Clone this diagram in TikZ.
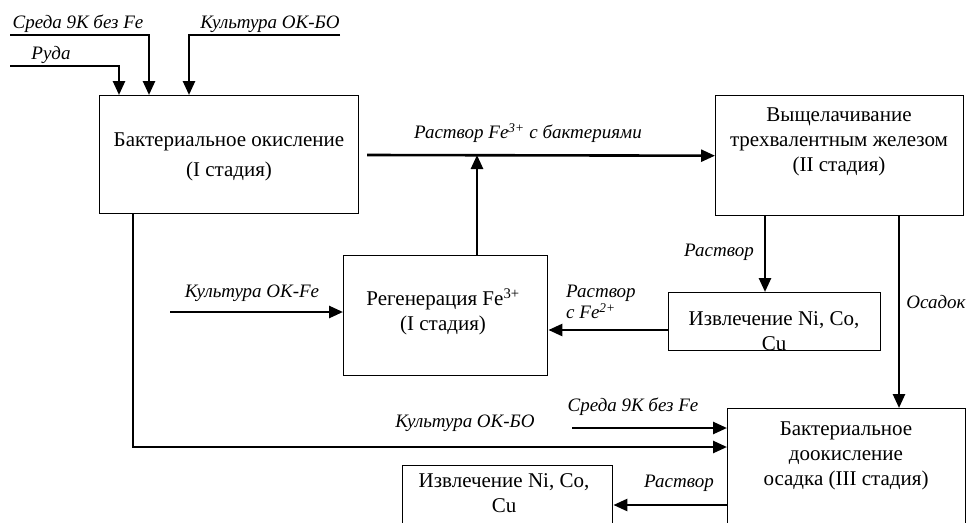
\documentclass[tikz,border=0pt]{standalone}
\usepackage{fontspec}
\setmainfont{Liberation Serif}[ItalicFont={Liberation Serif Italic},BoldFont={Liberation Serif Bold}]
\usetikzlibrary{arrows.meta,calc}
\begin{document}
\begin{tikzpicture}[x=1pt,y=-1pt,
  box/.style={draw, line width=1.4pt, rectangle, inner sep=0pt, anchor=north west},
  boxtext/.style={font=\fontsize{21}{25}\selectfont, align=center, inner sep=0pt},
  lbl/.style={font=\fontsize{19}{21}\selectfont\itshape, inner sep=0pt, align=left},
  arr/.style={line width=2.6pt, -{Triangle[length=14pt,width=12pt]}}]
\clip (0,0) rectangle (968,522);
\fill[white] (0,0) rectangle (968,522);

% boxes
\node[box, minimum width=259pt, minimum height=118pt] (b1) at (99,95) {};
\node[box, minimum width=248pt, minimum height=120pt] (b2) at (715,95) {};
\node[box, minimum width=204pt, minimum height=120pt] (reg) at (343,255) {};
\node[box, minimum width=212pt, minimum height=58pt] (ex1) at (668,292) {};
\node[box, minimum width=238pt, minimum height=140pt] (b3) at (727,408) {};
\node[box, minimum width=210pt, minimum height=80pt] (ex2) at (402,465) {};

% box texts
\node[boxtext] (t1) at (229,157) {Бактериальное окисление\\[5pt](I стадия)};
\node[boxtext] (t2) at (839,142) {Выщелачивание\\трехвалентным железом\\(II стадия)};
\node[boxtext] (treg) at (443,312) {Регенерация Fe\textsuperscript{3+}\\(I стадия)};
\begin{scope}
  \clip (ex1.north west) rectangle (ex1.south east);
  \node[boxtext] (tex1) at (774,331) {Извлечение Ni, Co,\\Cu};
\end{scope}
\node[boxtext] (t3) at (846,456) {Бактериальное\\доокисление\\осадка (III стадия)};
\node[boxtext] (tex2) at (504,493) {Извлечение Ni, Co,\\Cu};

% labels
\node[lbl] (l1) at (78,24) {Среда 9К без Fe};
\node[lbl] (l2) at (270,24) {Культура ОК-БО};
\node[lbl] (l3) at (51,55) {Руда};
\node[lbl] (l4) at (528,133) {Раствор Fe\textsuperscript{3+} с бактериями};
\node[lbl] (l5) at (252,293) {Культура ОК-Fe};
\node[lbl] (l6) at (719,252) {Раствор};
\node[lbl, anchor=west] (l7) at (566,302) {Раствор\\с Fe\textsuperscript{2+}};
\node[lbl] (l8) at (936,302) {Осадок};
\node[lbl] (l9) at (633,407) {Среда 9К без Fe};
\node[lbl] (l10) at (465,423) {Культура ОК-БО};
\node[lbl] (l11) at (679,483) {Раствор};

% connectors
\coordinate (rudaS) at (10,66);
\coordinate (sredaS) at (10,35);
\coordinate (kultS) at (340,35);
\draw[arr] (rudaS) -| ($(b1.north west)+(20,0)$);
\draw[arr] (sredaS) -| ($(b1.north west)+(50,0)$);
\draw[arr] (kultS) -| ($(b1.north west)+(90,0)$);

\coordinate (m1) at (367,155);
\draw[arr] (m1) -- (b2.west);
\coordinate (mj) at (477,155);
\draw[arr] (mj |- reg.north) -- (mj);

\coordinate (kfeS) at (170,312);
\draw[arr] (kfeS) -- (kfeS -| reg.west);

\coordinate (rs) at ($(b2.south west)+(50,0)$);
\draw[arr] (rs) -- (rs |- ex1.north);
\coordinate (os) at ($(b2.south west)+(184,0)$);
\draw[arr] (os) -- (os |- b3.north);

\coordinate (fe2) at ($(ex1.north west)+(0,38)$);
\draw[arr] (fe2) -- (fe2 -| reg.east);

\coordinate (kb) at ($(b1.south west)+(34,0)$);
\coordinate (kbE) at ($(b3.north west)+(0,39)$);
\draw[arr] (kb) |- (kbE);

\coordinate (s2) at (572,428);
\draw[arr] (s2) -- (s2 -| b3.west);

\coordinate (r3) at ($(b3.north west)+(0,97)$);
\draw[arr] (r3) -- (r3 -| ex2.east);
\end{tikzpicture}
\end{document}
